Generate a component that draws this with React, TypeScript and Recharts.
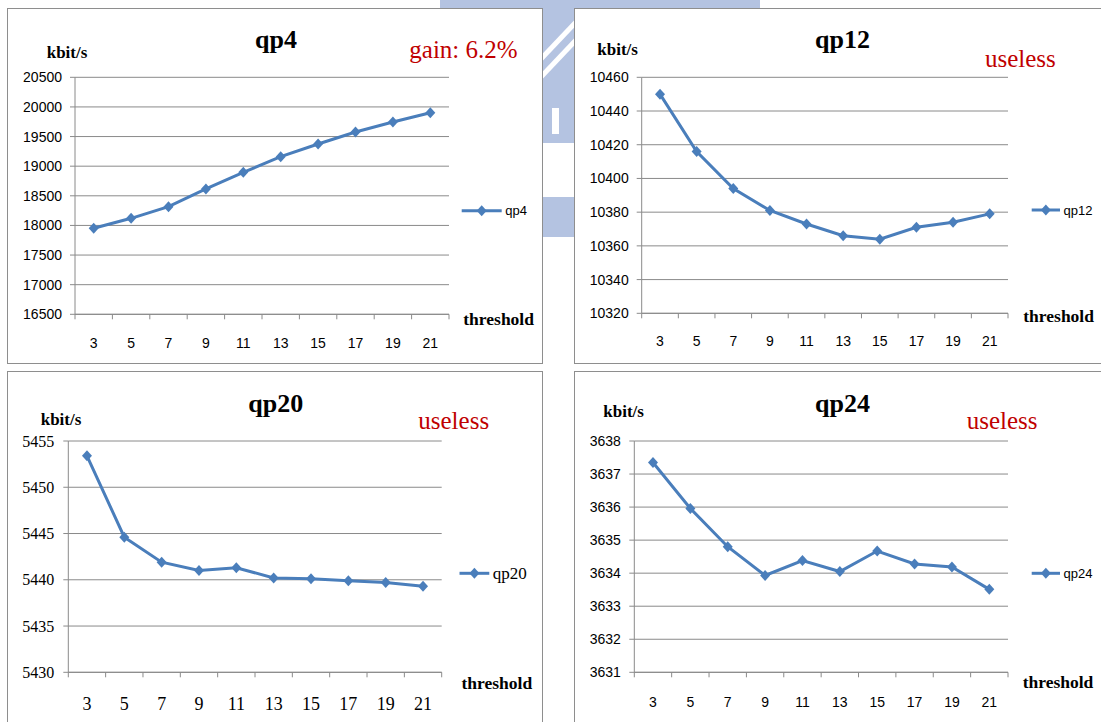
import React from 'react';
import { LineChart, Line, XAxis, YAxis, CartesianGrid } from 'recharts';

// thresholds on the x axis
const thresholds = [3, 5, 7, 9, 11, 13, 15, 17, 19, 21];
// tick slots: even = tick mark between categories, odd = label
const xSlots = [2, 3, 4, 5, 6, 7, 8, 9, 10, 11, 12, 13, 14, 15, 16, 17, 18, 19, 20, 21, 22];

// bitrate (kbit/s) per threshold
const qp4Rates = [17952, 18120, 18316, 18615, 18896, 19160, 19374, 19577, 19745, 19903];
const qp12Rates = [10450, 10416, 10394, 10381, 10373, 10366, 10364, 10371, 10374, 10379];
const qp20Rates = [5453.4, 5444.6, 5441.9, 5441.0, 5441.3, 5440.2, 5440.1, 5439.9, 5439.7, 5439.3];
const qp24Rates = [3637.35, 3635.96, 3634.8, 3633.93, 3634.38, 3634.05, 3634.67, 3634.28, 3634.19, 3633.51];

const qp4Ticks = [16500, 17000, 17500, 18000, 18500, 19000, 19500, 20000, 20500];
const qp12Ticks = [10320, 10340, 10360, 10380, 10400, 10420, 10440, 10460];
const qp20Ticks = [5430, 5435, 5440, 5445, 5450, 5455];
const qp24Ticks = [3631, 3632, 3633, 3634, 3635, 3636, 3637, 3638];

const BLUE = '#4a7ebb';
const GRID = '#8a8a8a';
const RED = '#c00000';
const MARK = '#b4c3e1'; // faint logo behind the slide
const SERIF = '"Liberation Serif", "Times New Roman", serif';
const SANS = '"Liberation Sans", Arial, sans-serif';
const XH = 45;

const diamond = (cx: number, cy: number) =>
  `M${cx},${cy - 5.5}L${cx + 5},${cy}L${cx},${cy + 5.5}L${cx - 5},${cy}Z`;

const Diamond = (props: any) => {
  const { cx, cy, index } = props;
  if (cx == null || cy == null) return null;
  return <path key={'d' + index} d={diamond(cx, cy)} fill={BLUE} />;
};

const XTick = (props: any) => {
  const { x, payload, axisY, font, size, offset } = props;
  const v = payload.value;
  if (v % 2 === 0) {
    return <line x1={x} x2={x} y1={axisY} y2={axisY + 5} stroke={GRID} strokeWidth={1} />;
  }
  return (
    <text x={x} y={axisY + offset} textAnchor="middle" dominantBaseline="central"
      fontFamily={font} fontSize={size} fill="#000">{v}</text>
  );
};

type Cfg = {
  name: string;
  values: number[];
  yTicks: number[];
  box: { x: number; y: number; w: number; h: number };
  plot: { l: number; t: number; r: number; b: number };
  yFont: string; ySize: number; yMargin: number;
  xFont: string; xSize: number; xOffset: number;
};

const panels: Cfg[] = [
  {
    name: 'qp4', values: qp4Rates, yTicks: qp4Ticks,
    box: { x: 7, y: 8, w: 536, h: 356 },
    plot: { l: 75, t: 77.3, r: 449, b: 314.3 },
    yFont: SANS, ySize: 14, yMargin: 8,
    xFont: SANS, xSize: 14, xOffset: 28.7,
  },
  {
    name: 'qp12', values: qp12Rates, yTicks: qp12Ticks,
    box: { x: 574, y: 8, w: 540, h: 356 },
    plot: { l: 641.7, t: 77.3, r: 1008, b: 313.3 },
    yFont: SANS, ySize: 14, yMargin: 8,
    xFont: SANS, xSize: 14, xOffset: 27.4,
  },
  {
    name: 'qp20', values: qp20Rates, yTicks: qp20Ticks,
    box: { x: 7, y: 371, w: 536, h: 360 },
    plot: { l: 68.3, t: 441, r: 441.7, b: 672.3 },
    yFont: SERIF, ySize: 16, yMargin: 9,
    xFont: SERIF, xSize: 18, xOffset: 32,
  },
  {
    name: 'qp24', values: qp24Rates, yTicks: qp24Ticks,
    box: { x: 574, y: 371, w: 540, h: 360 },
    plot: { l: 634.3, t: 441, r: 1008, b: 672.3 },
    yFont: SANS, ySize: 14, yMargin: 8.5,
    xFont: SANS, xSize: 14, xOffset: 30,
  },
];

const Panel = ({ cfg }: { cfg: Cfg }) => {
  const { box, plot } = cfg;
  const data = thresholds.map((t, i) => ({ t, v: cfg.values[i] }));
  const margin = {
    top: plot.t - box.y,
    left: 0,
    right: box.x + box.w - plot.r,
    bottom: box.y + box.h - plot.b - XH,
  };
  const axisY = plot.b - box.y;
  const lo = cfg.yTicks[0];
  const hi = cfg.yTicks[cfg.yTicks.length - 1];
  return (
    <>
      <div style={{
        position: 'absolute', left: box.x, top: box.y, width: box.w, height: box.h,
        boxSizing: 'border-box', border: '1px solid #8e8e8e', background: '#fff',
      }} />
      <div style={{ position: 'absolute', left: box.x, top: box.y }}>
        <LineChart width={box.w} height={box.h} data={data} margin={margin}>
          <CartesianGrid vertical={false} stroke={GRID} strokeWidth={1} />
          <XAxis type="number" dataKey="t" domain={[2, 22]} ticks={xSlots} interval={0}
            height={XH} axisLine={{ stroke: GRID }} tickLine={false}
            tick={<XTick axisY={axisY} font={cfg.xFont} size={cfg.xSize} offset={cfg.xOffset} />} />
          <YAxis type="number" domain={[lo, hi]} ticks={cfg.yTicks} interval={0} allowDataOverflow
            width={plot.l - box.x} tickSize={5} tickMargin={cfg.yMargin}
            axisLine={{ stroke: GRID }} tickLine={{ stroke: GRID }}
            tick={{ fill: '#000', fontFamily: cfg.yFont, fontSize: cfg.ySize }} />
          <Line type="linear" dataKey="v" stroke={BLUE} strokeWidth={3}
            dot={Diamond} activeDot={false} isAnimationActive={false} />
        </LineChart>
      </div>
    </>
  );
};

type Note = { x: number; y: number; text: string; size: number; bold?: boolean; color?: string; anchor?: string; font?: string };

const notes: Note[] = [
  { x: 276, y: 48.3, text: 'qp4', size: 26, bold: true, anchor: 'middle' },
  { x: 46.7, y: 58.3, text: 'kbit/s', size: 17, bold: true },
  { x: 409.3, y: 58.3, text: 'gain: 6.2%', size: 25, color: RED },
  { x: 463.3, y: 325, text: 'threshold', size: 17.5, bold: true },

  { x: 842.5, y: 48.3, text: 'qp12', size: 26, bold: true, anchor: 'middle' },
  { x: 597.3, y: 55, text: 'kbit/s', size: 17, bold: true },
  { x: 985, y: 66.7, text: 'useless', size: 25, color: RED },
  { x: 1023.3, y: 321.7, text: 'threshold', size: 17.5, bold: true },

  { x: 275.8, y: 411.7, text: 'qp20', size: 26, bold: true, anchor: 'middle' },
  { x: 40.7, y: 425, text: 'kbit/s', size: 17, bold: true },
  { x: 418.3, y: 429, text: 'useless', size: 25, color: RED },
  { x: 461.5, y: 689, text: 'threshold', size: 17.5, bold: true },

  { x: 842.5, y: 411.7, text: 'qp24', size: 26, bold: true, anchor: 'middle' },
  { x: 603.3, y: 416.7, text: 'kbit/s', size: 17, bold: true },
  { x: 966.7, y: 429, text: 'useless', size: 25, color: RED },
  { x: 1022.7, y: 687.7, text: 'threshold', size: 17.5, bold: true },
];

type Key = { x1: number; x2: number; y: number; label: string; font: string; size: number };

const keys: Key[] = [
  { x1: 461.7, x2: 501.7, y: 210.7, label: 'qp4', font: SANS, size: 13 },
  { x1: 1031.7, x2: 1060, y: 210, label: 'qp12', font: SANS, size: 13 },
  { x1: 459.5, x2: 489.3, y: 573.3, label: 'qp20', font: SERIF, size: 17 },
  { x1: 1031.7, x2: 1060, y: 573.3, label: 'qp24', font: SANS, size: 13 },
];

// faint logo peeking out between the panels
const Backdrop = () => (
  <svg width={1101} height={722} style={{ position: 'absolute', left: 0, top: 0 }}>
    <rect x={440} y={0} width={320} height={8} fill={MARK} />
    <rect x={540} y={0} width={36} height={143} fill={MARK} />
    <rect x={540} y={197} width={36} height={40} fill={MARK} />
    <path d="M540,60 L576,22" stroke="#fff" strokeWidth={5} />
    <path d="M540,78 L576,40" stroke="#fff" strokeWidth={5} />
    <rect x={552} y={108} width={7} height={26} fill="#fff" />
  </svg>
);

export default function App() {
  return (
    <div style={{
      position: 'absolute', left: 0, top: 0, width: 1101, height: 722,
      overflow: 'hidden', background: '#fff',
    }}>
      <Backdrop />
      {panels.map((p) => <Panel key={p.name} cfg={p} />)}
      <svg width={1101} height={722} style={{ position: 'absolute', left: 0, top: 0, pointerEvents: 'none' }}>
        {notes.map((n, i) => (
          <text key={i} x={n.x} y={n.y} textAnchor={n.anchor || 'start'}
            fontFamily={n.font || SERIF} fontSize={n.size}
            fontWeight={n.bold ? 'bold' : 'normal'} fill={n.color || '#000'}>{n.text}</text>
        ))}
        {keys.map((k) => (
          <g key={k.label}>
            <line x1={k.x1} x2={k.x2} y1={k.y} y2={k.y} stroke={BLUE} strokeWidth={3} />
            <path d={diamond((k.x1 + k.x2) / 2, k.y)} fill={BLUE} />
            <text x={k.x2 + 3.5} y={k.y} dominantBaseline="central" fontFamily={k.font}
              fontSize={k.size} fill="#000">{k.label}</text>
          </g>
        ))}
      </svg>
    </div>
  );
}
